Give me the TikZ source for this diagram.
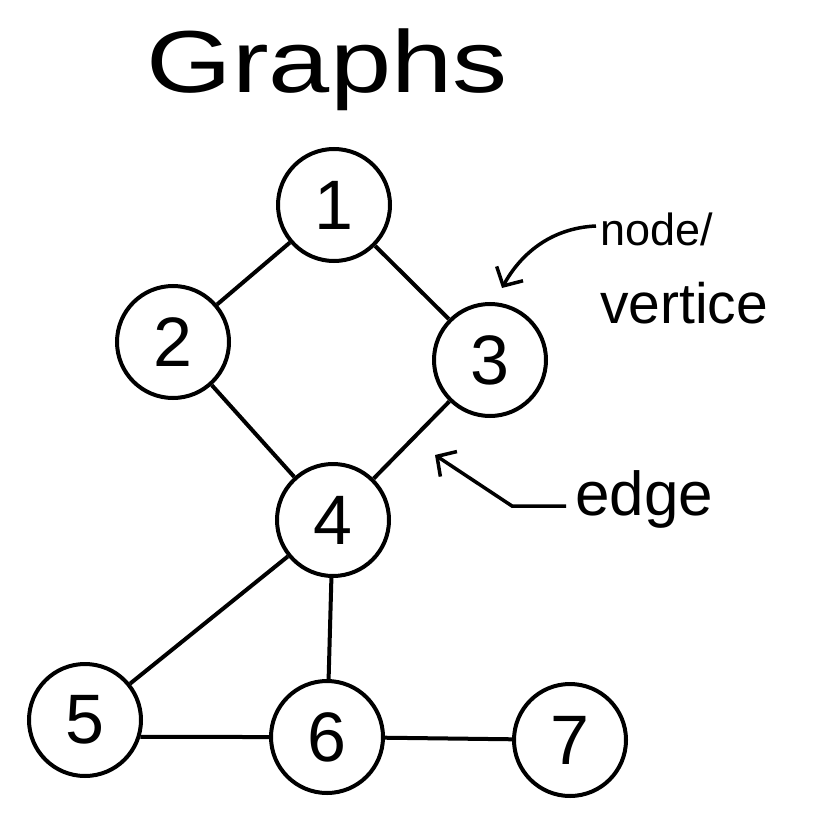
\documentclass[tikz,border=0pt]{standalone}
\usepackage{fontspec}
\setmainfont{Liberation Sans}
\usetikzlibrary{arrows.meta}
\begin{document}
\begin{tikzpicture}[x=1pt,y=-1pt,
  vert/.style={circle,draw,line width=4pt,minimum size=112pt,inner sep=0pt,font=\fontsize{70}{70}\selectfont},
  link/.style={line width=4pt},
  arr/.style={line width=3.5pt,-{Straight Barb[length=14pt,width=30pt,line width=3.5pt]}},
  lbl/.style={inner sep=0pt,anchor=base west}]
\useasboundingbox (0,0) rectangle (826,826);
\node[inner sep=0pt,font=\fontsize{88}{88}\selectfont,xscale=1.25] (title) at (327,70) {Graphs};
\node[vert] (n1) at (334,205) {1};
\node[vert] (n2) at (173,342) {2};
\node[vert] (n3) at (490,360) {3};
\node[vert] (n4) at (333,520) {4};
\node[vert] (n5) at (85,720) {5};
\node[vert] (n6) at (327,737) {6};
\node[vert] (n7) at (570,740) {7};
\draw[link] (n1) -- (n2);
\draw[link] (n1) -- (n3);
\draw[link] (n2) -- (n4);
\draw[link] (n3) -- (n4);
\draw[link] (n4) -- (n5);
\draw[link] (n4) -- (n6);
\draw[link] (n5.-17) -- (n6.180);
\draw[link] (n6) -- (n7);
\node[lbl,font=\fontsize{45}{45}\selectfont] (lnode) at (600,245) {node/};
\node[lbl,font=\fontsize{57}{57}\selectfont] (lvert) at (600,323) {vertice};
\node[lbl,font=\fontsize{62}{62}\selectfont] (ledge) at (575,515) {edge};
\coordinate (a1s) at (596,226);
\coordinate (a1t) at (502,288);
\draw[arr] (a1s) .. controls (550,228) and (520,255) .. (a1t);
\coordinate (a2s) at (566,506);
\coordinate (a2m) at (512,506);
\coordinate (a2t) at (435,455);
\draw[arr] (a2s) -- (a2m) -- (a2t);
\end{tikzpicture}
\end{document}
